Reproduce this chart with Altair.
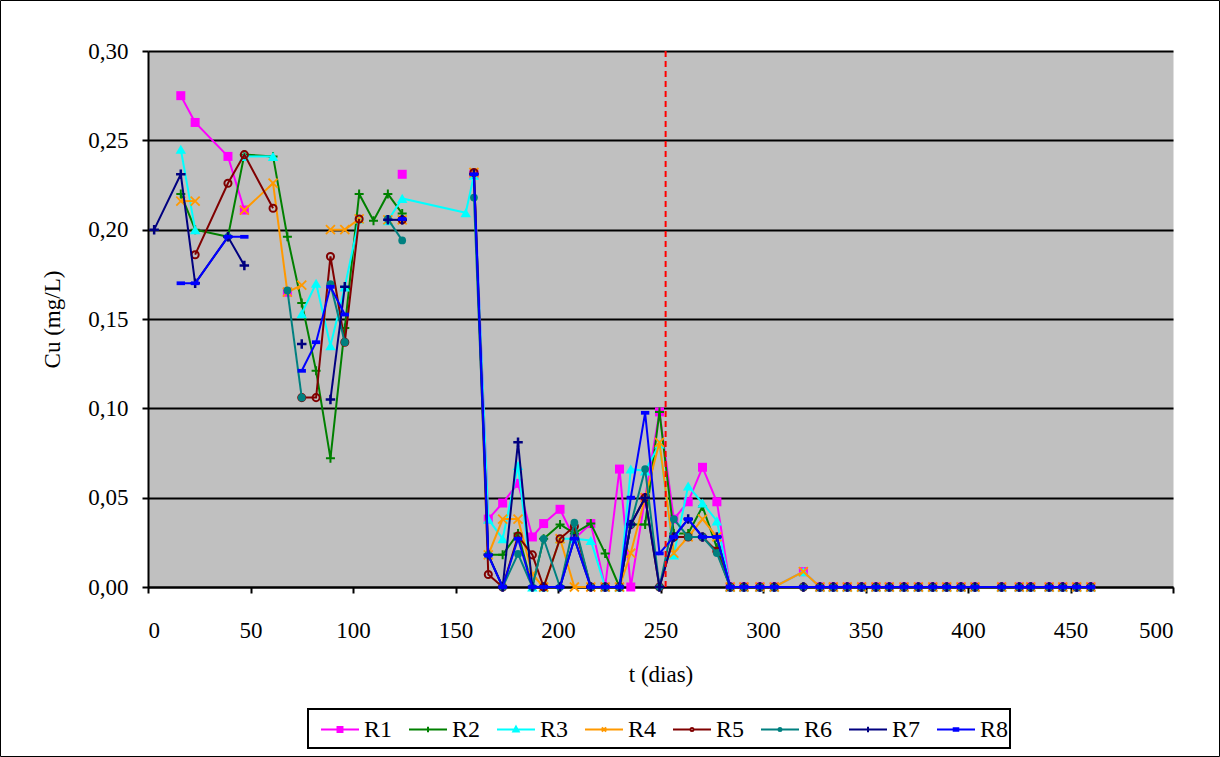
import altair as alt
import pandas as pd

# Sampling days (t, dias)
t_days = [3, 16, 23, 39, 47, 61, 68, 75, 82, 89, 96, 103, 110, 117, 124, 155, 159,
          166, 173, 180.5, 187.5, 193, 201, 208, 216, 223, 230, 235.5, 242.5, 249.5,
          256.5, 263.5, 270.5, 277.5, 284, 290.7, 298.5, 305.5, 319.7, 327.8, 334.3,
          341.1, 348.1, 355.1, 361.6, 368.8, 375.8, 382.8, 389.6, 396.6, 403.4, 416.4,
          425, 430.6, 439.6, 446.2, 453, 459.9]

# Cu concentration (mg/L) per reactor; None = no measurement (line break)
cu_r1 = [None, 0.275, 0.260, 0.241, 0.211, None, 0.165, None, None, None, None, None, None, None,
         0.231, None, 0.231, 0.038, 0.047, 0.058, 0.028, 0.0355, 0.0435, 0.027, 0.0355, 0.0,
         0.066, 0.0, 0.050, 0.098, 0.038, 0.0477, 0.067, 0.0477,
         0, 0, 0, 0, 0.0086, 0, 0, 0, 0, 0, 0, 0, 0, 0, 0, 0, 0, 0, 0, 0, 0, 0, 0, 0]
cu_r2 = [None, 0.220, 0.200, 0.196, 0.242, 0.241, 0.196, 0.159, 0.121, 0.072, 0.145, 0.220,
         0.205, 0.220, 0.209, None, None, 0.018, 0.018, 0.030, 0.0, 0.027, 0.035, 0.030, 0.0356,
         0.0188, 0.0, 0.035, 0.035, 0.098, 0.030, 0.030, 0.045, 0.022,
         0, 0, 0, 0, 0, 0, 0, 0, 0, 0, 0, 0, 0, 0, 0, 0, 0, 0, 0, 0, 0, 0, 0, 0]
cu_r3 = [None, 0.245, 0.200, None, 0.241, 0.241, None, 0.153, 0.170, 0.135, 0.168, 0.206,
         None, 0.205, 0.2175, 0.2095, 0.2305, 0.038, 0.027, 0.068, 0.0, 0.0, 0.027, 0.027,
         0.026, 0.0, 0.0, 0.066, 0.065, 0.080, 0.018, 0.0565, 0.047, 0.037,
         0, 0, 0, 0, 0.0086, 0, 0, 0, 0, 0, 0, 0, 0, 0, 0, 0, 0, 0, 0, 0, 0, 0, 0, 0]
cu_r4 = [None, 0.216, 0.216, None, 0.211, 0.226, 0.165, 0.169, None, 0.200, 0.200, 0.206,
         None, 0.2055, 0.2055, None, 0.232, 0.018, 0.038, 0.038, 0.007, 0.0, 0.027, 0.0, 0.0,
         0.0, 0.0, 0.019, 0.050, 0.081, 0.019, 0.028, 0.038, 0.028,
         0, 0, 0, 0, 0.0086, 0, 0, 0, 0, 0, 0, 0, 0, 0, 0, 0, 0, 0, 0, 0, 0, 0, 0, 0]
cu_r5 = [None, None, 0.186, 0.226, 0.242, 0.212, None, 0.106, 0.106, 0.185, 0.137, 0.206,
         None, None, 0.2055, None, 0.232, 0.007, 0.0, 0.0285, 0.018, 0.0, 0.027, 0.034, 0.0,
         0.0, 0.0, 0.035, 0.050, 0.0, 0.028, 0.028, 0.028, 0.020,
         0, 0, 0, 0, 0, 0, 0, 0, 0, 0, 0, 0, 0, 0, 0, 0, 0, 0, 0, 0, 0, 0, 0, 0]
cu_r6 = [None, None, None, 0.196, None, None, 0.166, 0.106, None, 0.1695, 0.137, None,
         None, 0.206, 0.194, None, 0.218, 0.018, 0.0, 0.0185, 0.0, 0.027, 0.0, 0.036, 0.0,
         0.0, 0.0, 0.035, 0.066, 0.0, 0.038, 0.028, 0.028, 0.019,
         0, 0, 0, 0, 0, 0, 0, 0, 0, 0, 0, 0, 0, 0, 0, 0, 0, 0, 0, 0, 0, 0, 0, 0]
cu_r7 = [0.200, 0.231, 0.170, 0.196, 0.180, None, None, 0.136, None, 0.105, 0.168, None,
         None, 0.2055, 0.2055, None, 0.231, 0.018, 0.0, 0.081, 0.0, 0.0, 0.0, 0.027, 0.0,
         0.0, 0.0, 0.035, 0.050, 0.0, 0.028, 0.038, 0.028, 0.028,
         0, 0, 0, 0, 0, 0, 0, 0, 0, 0, 0, 0, 0, 0, 0, 0, 0, 0, 0, 0, 0, 0, 0, 0]
cu_r8 = [None, 0.170, 0.170, 0.196, 0.196, None, None, 0.121, 0.137, 0.168, 0.1525, None,
         None, None, 0.206, None, 0.231, 0.0176, 0.0, 0.027, 0.0, 0.0, 0.0, 0.027, 0.0,
         0.0, 0.0, 0.050, 0.0975, 0.0188, 0.028, 0.038, 0.028, 0.028,
         0, 0, 0, 0, 0, 0, 0, 0, 0, 0, 0, 0, 0, 0, 0, 0, 0, 0, 0, 0, 0, 0, 0, 0]

series_names = ["R1", "R2", "R3", "R4", "R5", "R6", "R7", "R8"]
series_colors = ["#FF00FF", "#008000", "#00FFFF", "#FF9900", "#800000", "#008080", "#000080", "#0000FF"]
series_values = [cu_r1, cu_r2, cu_r3, cu_r4, cu_r5, cu_r6, cu_r7, cu_r8]

# Day of the operational change (dashed marker line)
change_day = [252.5]

x_ticks = [0, 50, 100, 150, 200, 250, 300, 350, 400, 450, 500]
y_ticks = [0.0, 0.05, 0.10, 0.15, 0.20, 0.25, 0.30]

# Long table; consecutive measured values share a segment id so gaps break the lines
rows = []
for name, vals in zip(series_names, series_values):
    seg, inside = 0, False
    for t, v in zip(t_days, vals):
        if v is None:
            inside = False
            continue
        if not inside:
            seg += 1
            inside = True
        rows.append({"series": name, "t": t, "cu": v, "seg": f"{name}-{seg}"})
df = pd.DataFrame(rows)

FONT = "Liberation Serif"
FS = 23

x_scale = alt.Scale(domain=[0, 500], nice=False)
x_axis = alt.Axis(title="t (dias)", values=x_ticks, format="d", grid=False,
                  tickSize=6, labelPadding=26, titleY=76)
x_enc = alt.X("t:Q", scale=x_scale, axis=x_axis)
y_enc = alt.Y("cu:Q", scale=alt.Scale(domain=[0, 0.30], nice=False),
              axis=alt.Axis(title="Cu (mg/L)", values=y_ticks, grid=True,
                            labelExpr="replace(format(datum.value, '.2f'), '.', ',')",
                            tickSize=6, labelPadding=14, titleX=-84, titleY=268))
color_enc = alt.Color("series:N", scale=alt.Scale(domain=series_names, range=series_colors),
                      legend=None)

marker_styles = {
    "R1": dict(shape="square", filled=True, size=81),
    "R2": dict(shape="M0,-1V1M-1,0H1", filled=False, size=81, strokeWidth=2),
    "R3": dict(shape="triangle-up", filled=True, size=110),
    "R4": dict(shape="M-1,-1L1,1M-1,1L1,-1", filled=False, size=81, strokeWidth=1.8),
    "R5": dict(shape="circle", filled=False, size=50, strokeWidth=2),
    "R6": dict(shape="circle", filled=True, size=60),
    "R7": dict(shape="M0,-1V1M-1,0H1", filled=False, size=90, strokeWidth=2.5),
    "R8": dict(shape="M-1,-0.45H1V0.45H-1Z", filled=True, size=70),
}

base = alt.Chart(df)
layers = []
for name, col in zip(series_names, series_colors):
    sub = base.transform_filter(alt.datum.series == name)
    layers.append(sub.mark_line(strokeWidth=2).encode(
        x=x_enc, y=y_enc, color=color_enc, detail="seg:N", order="t:Q"))
    layers.append(sub.mark_point(color=col, opacity=1, **marker_styles[name]).encode(
        x=x_enc, y=y_enc))

# Legend symbols: a short line with the series marker
line_seg = "M-1,0H1"
legend_paths = [
    line_seg + "M-0.13,-0.13H0.13V0.13H-0.13Z",
    line_seg + "M0,-0.15V0.15",
    line_seg + "M0,-0.15L0.14,0.1H-0.14Z",
    line_seg + "M-0.11,-0.11L0.11,0.11M-0.11,0.11L0.11,-0.11",
    "M-1,0H-0.08M0.08,0H1M0.08,0A0.08,0.08,0,1,1,-0.08,0A0.08,0.08,0,1,1,0.08,0Z",
    line_seg + "M0.08,0A0.08,0.08,0,1,1,-0.08,0A0.08,0.08,0,1,1,0.08,0Z",
    line_seg + "M0,-0.15V0.15",
    line_seg + "M-0.12,-0.06H0.12V0.06H-0.12Z",
]
legend_fills = ["#FF00FF", "#008000", "#00FFFF", "#FF9900", "white", "#008080", "#000080", "#0000FF"]


def make_legend():
    return alt.Legend(title=None, orient="none", legendX=172, legendY=658.5,
                      direction="horizontal", columns=8, symbolSize=1444,
                      symbolStrokeWidth=2, labelFont=FONT, labelFontSize=24,
                      labelColor="black", padding=0,
                      columnPadding=12, labelOffset=4)


# Legend carrier: one symbol per row, pushed outside the x domain and clipped away
legend_layer = base.transform_calculate(off="-1000").mark_point(
    filled=True, opacity=1, clip=True).encode(
    x=alt.X("off:Q", scale=x_scale, axis=x_axis), y=y_enc,
    fill=alt.Fill("series:N", scale=alt.Scale(domain=series_names, range=legend_fills),
                  legend=make_legend()),
    stroke=alt.Stroke("series:N", scale=alt.Scale(domain=series_names, range=series_colors),
                      legend=make_legend()),
    shape=alt.Shape("series:N", scale=alt.Scale(domain=series_names, range=legend_paths),
                    legend=make_legend()),
)

change_rule = alt.Chart(pd.DataFrame({"t": change_day})).mark_rule(
    color="#FF0000", strokeDash=[6, 4], strokeWidth=2).encode(x=alt.X("t:Q"))

one_row = pd.DataFrame({"k": [0]})

# Border of the legend box
legend_box = alt.Chart(one_row).mark_rect(
    fill="transparent", stroke="black", strokeWidth=2).encode(
    x=alt.value(160), x2=alt.value(862), y=alt.value(658), y2=alt.value(697))

# Outer frame of the whole chart
frame = alt.Chart(one_row).mark_rect(
    fill="transparent", stroke="black", strokeWidth=1).encode(
    x=alt.value(-147.5), x2=alt.value(1071.5), y=alt.value(-50.5), y2=alt.value(705.5))

chart = alt.layer(legend_layer, *layers, change_rule, legend_box, frame).properties(
    width=1025, height=536,
    padding={"left": 148, "top": 51, "right": 47, "bottom": 170},
    autosize=alt.AutoSizeParams(type="none"),
    background="white",
).configure_view(
    fill="#C0C0C0", stroke="transparent"
).configure_axis(
    labelFont=FONT, labelFontSize=FS, labelColor="black",
    titleFont=FONT, titleFontSize=FS, titleFontWeight="normal", titleColor="black",
    domainColor="black", domainWidth=2, tickColor="black", tickWidth=2,
    gridColor="black", gridWidth=2, gridOpacity=1,
)

chart.save("out.html", embed_options={"renderer": "svg", "actions": False})
